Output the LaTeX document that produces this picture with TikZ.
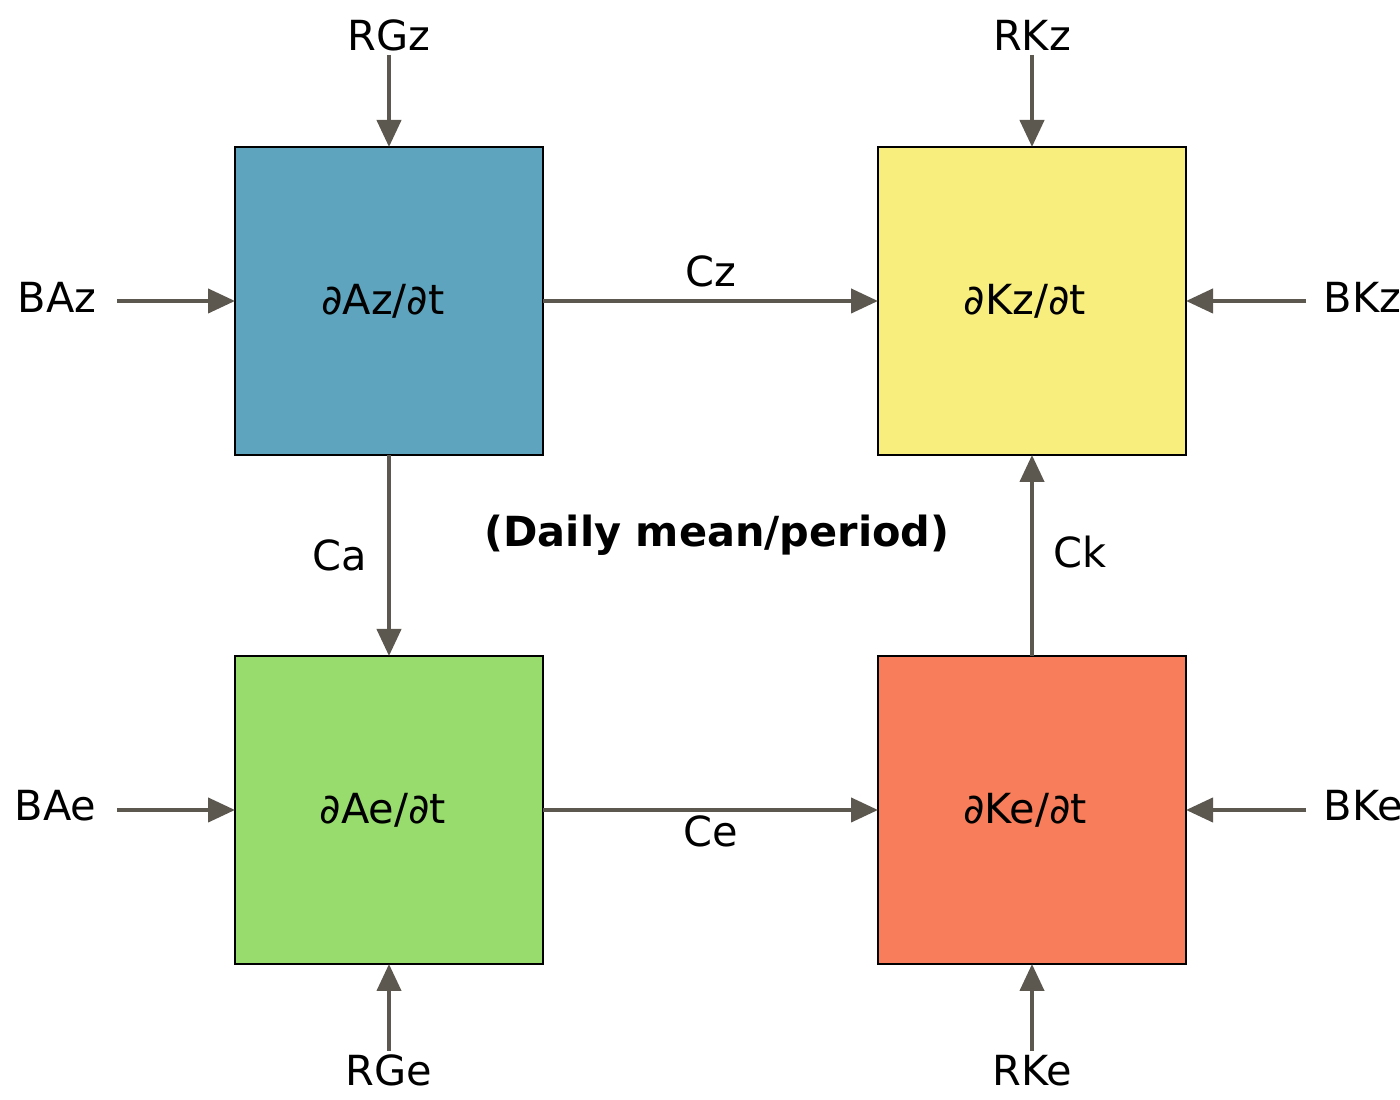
\documentclass[tikz,border=0pt]{standalone}
\usepackage{fontspec}
\setmainfont{DejaVu Sans}
\usepackage{tikz}
\usetikzlibrary{shapes, arrows.meta, positioning}
\definecolor{azblue}{HTML}{5EA4BE}
\definecolor{kzyellow}{HTML}{F7EE7D}
\definecolor{aegreen}{HTML}{98DC6E}
\definecolor{keorange}{HTML}{F77D5B}
\definecolor{fluxgray}{HTML}{5C5850}
\tikzstyle{every node}=[font=\fontsize{11.8pt}{14pt}\selectfont]
\tikzstyle{box}=[draw=black,line width=0.35pt,rectangle,minimum size=3.08cm,inner sep=0pt,outer sep=0pt]
\tikzstyle{flux}=[draw=fluxgray,line width=0.042cm,-{Triangle[length=0.27cm,width=0.24cm]}]
\tikzstyle{vlabel}=[inner ysep=1pt]
\tikzstyle{hlabel}=[inner xsep=0.2cm]
\tikzstyle{heading}=[font=\fontsize{11.8pt}{14pt}\selectfont\bfseries]

\begin{document}
\begin{tikzpicture}
    \useasboundingbox (0,0) rectangle (14,11);
    % the four boxes
    \node[box, fill=azblue, label={[xshift=-0.06cm]center:∂Az/∂t}] (Az) at (3.89,7.99) {};
    \node[box, fill=kzyellow, right=3.35cm of Az, label={[xshift=-0.07cm]center:∂Kz/∂t}] (Kz) {};
    \node[box, fill=aegreen, below=2.01cm of Az, label={[xshift=-0.06cm]center:∂Ae/∂t}] (Ae) {};
    \node[box, fill=keorange, below=2.01cm of Kz, label={[xshift=-0.07cm]center:∂Ke/∂t}] (Ke) {};
    % outside terms
    \node[vlabel, above=0.92cm of Az] (RGz) {RGz};
    \node[vlabel, above=0.92cm of Kz] (RKz) {RKz};
    \node[vlabel, below=0.87cm of Ae] (RGe) {RGe};
    \node[vlabel, below=0.87cm of Ke] (RKe) {RKe};
    \node[hlabel, left=1.18cm of Az, yshift=0.04cm] (BAz) {BAz};
    \node[hlabel, left=1.18cm of Ae, yshift=0.04cm] (BAe) {BAe};
    \node[hlabel, inner xsep=0.17cm, right=1.2cm of Kz, yshift=0.04cm] (BKz) {BKz};
    \node[hlabel, inner xsep=0.17cm, right=1.2cm of Ke, yshift=0.04cm] (BKe) {BKe};
    \node[heading] (ttl) at (7.17,5.65) {(Daily mean/period)};
    % fluxes
    \draw[flux] (RGz) -- (Az);
    \draw[flux] (RKz) -- (Kz);
    \draw[flux] (RGe) -- (Ae);
    \draw[flux] (RKe) -- (Ke);
    \draw[flux] (BAz.east |- Az) -- (Az.west);
    \draw[flux] (BAe.east |- Ae) -- (Ae.west);
    \draw[flux] (BKz.west |- Kz) -- (Kz.east);
    \draw[flux] (BKe.west |- Ke) -- (Ke.east);
    \draw[flux] (Az) -- node[above] (cz) {Cz} (Kz);
    \draw[flux] (Ae) -- node[below, yshift=0.08cm] (ce) {Ce} (Ke);
    \draw[flux] (Az) -- node[left=0.08cm] (ca) {Ca} (Ae);
    \draw[flux] (Ke) -- node[right=0.08cm, yshift=0.03cm] (ck) {Ck} (Kz);
\end{tikzpicture}
\end{document}
